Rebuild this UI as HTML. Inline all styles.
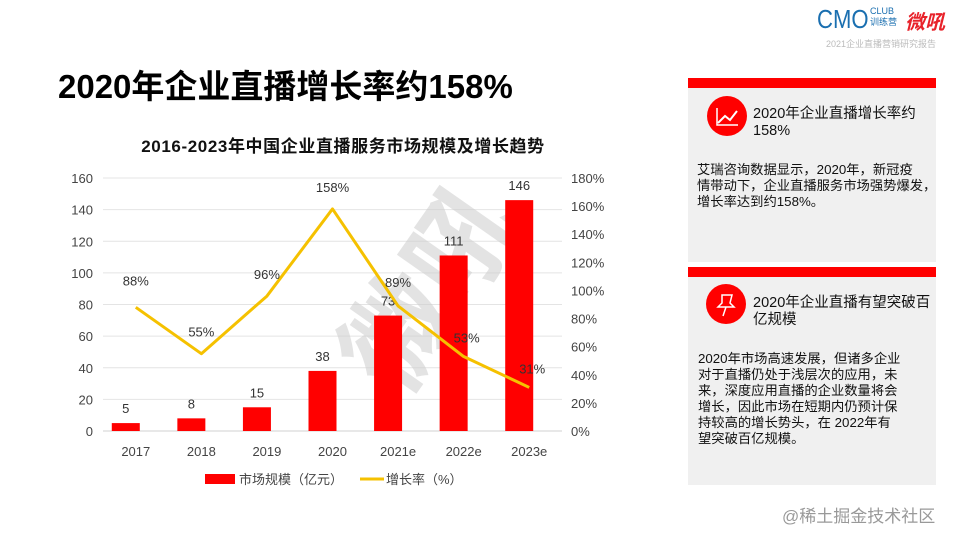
<!DOCTYPE html>
<html><head><meta charset="utf-8">
<style>
body{margin:0;width:960px;height:540px;background:#fff;position:relative;overflow:hidden;font-family:"Liberation Sans","Noto Sans CJK SC",sans-serif;}
.abs{position:absolute;white-space:nowrap;}
.panel{position:absolute;left:688px;width:248px;background:#f0f0f0;}
.bar{position:absolute;left:688px;width:248px;height:10px;background:#f00;}
.circ{position:absolute;width:40px;height:40px;border-radius:50%;background:#f00;}
.ph{position:absolute;font-size:14.5px;line-height:17px;color:#111;white-space:nowrap;}
.pt{position:absolute;font-size:13.3px;line-height:16px;color:#111;white-space:nowrap;}
</style></head><body>
<div class="abs" style="left:58px;top:60px;font-size:33px;font-weight:bold;color:#000;">2020年企业直播增长率约158%</div>
<div class="abs" style="left:817px;top:4px;font-size:26px;color:#1a6fb0;transform:scaleX(0.85);transform-origin:left;">CMO</div>
<div class="abs" style="left:870px;top:6px;font-size:9px;line-height:11px;color:#1a6fb0;">CLUB<br>训练营</div>
<div class="abs" style="left:905px;top:6px;font-size:20px;font-weight:bold;color:#e8222a;font-style:italic;">微吼</div>
<div class="abs" style="left:826px;top:37px;font-size:9px;color:#bbb;">2021企业直播营销研究报告</div>

<div class="bar" style="top:78px"></div>
<div class="panel" style="top:88px;height:174px"></div>
<div class="circ" style="left:707px;top:96px">
<svg width="40" height="40"><polyline points="11,27 18,20 23,24 30,15" fill="none" stroke="#fff" stroke-width="2"/><polyline points="10,12 10,29 31,29" fill="none" stroke="#fff" stroke-width="1.5"/></svg></div>
<div class="ph" style="left:753px;top:106px">2020年企业直播增长率约<br>158%</div>
<div class="pt" style="left:697px;top:162px">艾瑞咨询数据显示，2020年，新冠疫<br>情带动下，企业直播服务市场强势爆发，<br>增长率达到约158%。</div>

<div class="bar" style="top:267px"></div>
<div class="panel" style="top:277px;height:208px"></div>
<div class="circ" style="left:706px;top:284px">
<svg width="40" height="40"><path d="M16,11 L26,11 L24,19 L28,23 L12,23 L16,19 Z" fill="none" stroke="#fff" stroke-width="1.5"/><line x1="20" y1="23" x2="17" y2="32" stroke="#fff" stroke-width="1.5"/></svg></div>
<div class="ph" style="left:753px;top:295px">2020年企业直播有望突破百<br>亿规模</div>
<div class="pt" style="left:698px;top:351px">2020年市场高速发展，但诸多企业<br>对于直播仍处于浅层次的应用，未<br>来，深度应用直播的企业数量将会<br>增长，因此市场在短期内仍预计保<br>持较高的增长势头，在 2022年有<br>望突破百亿规模。</div>

<div class="abs" style="left:782px;top:502px;font-size:17px;color:#999;">@稀土掘金技术社区</div>

<svg id="chart" class="abs" style="left:0;top:0" width="680" height="540"></svg>
<script>
const categories=["2017","2018","2019","2020","2021e","2022e","2023e"];
const marketSize=[5,8,15,38,73,111,146];
const growthRate=[88,55,96,158,89,53,31];
const leftTicks=[0,20,40,60,80,100,120,140,160];
const rightTicks=[0,20,40,60,80,100,120,140,160,180];
const growthLabels=["88%","55%","96%","158%","89%","53%","31%"];
const svg=document.getElementById('chart');
const NS='http://www.w3.org/2000/svg';
const X0=103,X1=562,Y0=431,Y1=178;
const bw=(X1-X0)/categories.length;
const yL=v=>Y0-(v/160)*(Y0-Y1);
const yR=v=>Y0-(v/180)*(Y0-Y1);
const xc=i=>X0+bw*(i+0.5);
function el(t,a,txt){const e=document.createElementNS(NS,t);for(const k in a)e.setAttribute(k,a[k]);if(txt!=null)e.textContent=txt;svg.appendChild(e);return e;}
let t=el('text',{x:343,y:152,'text-anchor':'middle','font-size':17,'letter-spacing':0.6,'font-weight':'bold',fill:'#111'},'2016-2023年中国企业直播服务市场规模及增长趋势');


leftTicks.forEach(v=>{const g=el('line',{x1:X0,x2:X1,y1:yL(v),y2:yL(v),stroke:v?'#e4e4e4':'#d0d0d0','stroke-width':1});


const l=el('text',{x:93,y:yL(v)+5,'text-anchor':'end','font-size':13,fill:'#444'},v);

});
rightTicks.forEach(v=>{const l=el('text',{x:571,y:yR(v)+5,'font-size':13,fill:'#444'},v+'%');

});
const w=el('text',{x:0,y:0,'font-size':110,'font-weight':'bold',fill:'#ccc','fill-opacity':0.55,transform:'translate(400,400) rotate(-55)'},'微吼');


categories.forEach((c,i)=>{
const x=xc(i)-10;
const r=el('rect',{x:x-14,y:yL(marketSize[i]),width:28,height:Y0-yL(marketSize[i]),fill:'#f00'});


const v=el('text',{x:x,y:yL(marketSize[i])-10,'text-anchor':'middle','font-size':13,fill:'#333'},marketSize[i]);


const xl=el('text',{x:xc(i),y:456,'text-anchor':'middle','font-size':13,fill:'#444'},c);


});
const pts=growthRate.map((v,i)=>xc(i)+','+yR(v)).join(' ');
const line=el('polyline',{points:pts,fill:'none',stroke:'#f5c100','stroke-width':3,'stroke-linejoin':'round'});


growthRate.forEach((v,i)=>{
const off=i===3?-17:(i>=4?-19:-17);
const gl=el('text',{x:xc(i)-(i>=5?-3:0),y:yR(v)+(i>=5?-14:off)+(i===0?-5:0),'text-anchor':'middle','font-size':13,fill:'#333'},growthLabels[i]);


});
const lg1=el('rect',{x:205,y:474,width:30,height:10,fill:'#f00'});


const lt1=el('text',{x:239,y:484,'font-size':13,fill:'#444'},'市场规模（亿元）');


const lg2=el('line',{x1:360,x2:384,y1:479,y2:479,stroke:'#f5c100','stroke-width':3});


const lt2=el('text',{x:386,y:484,'font-size':13,fill:'#444'},'增长率（%）');


</script>
</body></html>
